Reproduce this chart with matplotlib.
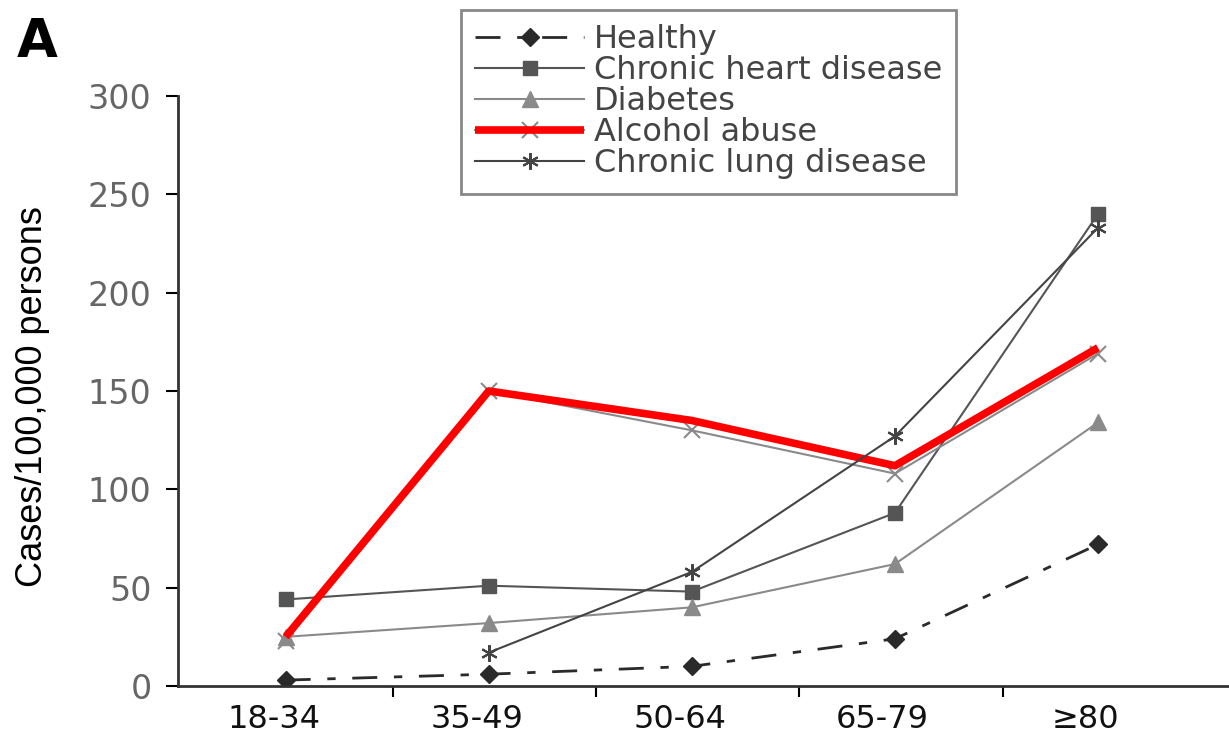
import numpy as np
import matplotlib.pyplot as plt
from matplotlib.legend_handler import HandlerTuple

# tranches d'age et taux (cas/100 000 personnes)
groupes = ['18-34', '35-49', '50-64', '65-79', '≥80']
sain = [3, 6, 10, 24, 72]
coeur = [44, 51, 48, 88, 240]
diabete = [25, 32, 40, 62, 134]
alcool = [23, 150, 130, 108, 169]
alcool_rouge = [25, 150, 135, 112, 172]
poumon_x = [1, 2, 3, 4]
poumon = [17, 58, 127, 233]

plt.rcParams['font.family'] = ['DejaVu Sans']

fig = plt.figure(figsize=(12.29, 7.53), dpi=100)
ax = fig.add_axes([178/1229, 1-686/753, 1-178/1229, (686-96)/753])

x = np.arange(len(groupes))

h1, = ax.plot(x, sain, color='#2a2a2a', lw=2, marker='D', ms=9,
              dashes=[9, 6, 3, 6], label='Healthy')
h2, = ax.plot(x, coeur, color='#555555', lw=1.5, marker='s', ms=10,
              label='Chronic heart disease')
h3, = ax.plot(x, diabete, color='#8a8a8a', lw=1.5, marker='^', ms=11,
              label='Diabetes')
h4, = ax.plot(x, alcool, color='#8a8a8a', lw=1.5, marker='x', ms=11, mew=1.5)
h5, = ax.plot(x, alcool_rouge, color='#ff0000', lw=5.5, solid_capstyle='butt')
h6, = ax.plot(poumon_x, poumon, color='#444444', lw=1.5, marker=(6, 2, 0),
              ms=12, mew=1.5, label='Chronic lung disease')

ax.set_ylim(0, 300)
ax.set_xlim(-0.53, 4.645)
ax.set_yticks(np.arange(0, 301, 50))
ax.set_xticks(np.arange(0.5, 3.6, 1.0) + 0.03)
ax.set_xticklabels([])
ax.set_xticks(x - 0.06, minor=True)
ax.set_xticklabels(groupes, minor=True)
ax.tick_params(axis='x', which='minor', length=0, pad=13, labelsize=23, labelcolor='#111111')
ax.tick_params(axis='x', which='major', length=8, width=1.5, direction='out')
ax.tick_params(axis='y', length=9, width=1.5, pad=10, labelsize=24, labelcolor='#666666')

for s in ['top', 'right']:
    ax.spines[s].set_visible(False)
ax.spines['left'].set_linewidth(2)
ax.spines['bottom'].set_linewidth(2)
ax.spines['left'].set_color('#333333')
ax.spines['bottom'].set_color('#333333')

ax.set_ylabel('Cases/100,000 persons', fontsize=26,
              family=['Liberation Sans Narrow', 'Liberation Sans', 'DejaVu Sans'])
ax.yaxis.set_label_coords(-0.122, 0.49)

leg = fig.legend([h1, h2, h3, (h4, h5), h6],
                 ['Healthy', 'Chronic heart disease', 'Diabetes', 'Alcohol abuse',
                  'Chronic lung disease'],
                 handler_map={tuple: HandlerTuple(ndivide=1)},
                 loc='upper left', bbox_to_anchor=(461/1229, 1-10/753),
                 borderaxespad=0,
                 fontsize=23, handlelength=3.4, labelspacing=0.0,
                 handletextpad=0.3, borderpad=0.45, fancybox=False,
                 edgecolor='#888888', framealpha=1)
leg.get_frame().set_linewidth(2)
for t in leg.get_texts():
    t.set_color('#444444')

fig.text(17/1229, 1-57/753, 'A', fontsize=38, fontweight='bold')

fig.savefig('out.png', dpi=100)
